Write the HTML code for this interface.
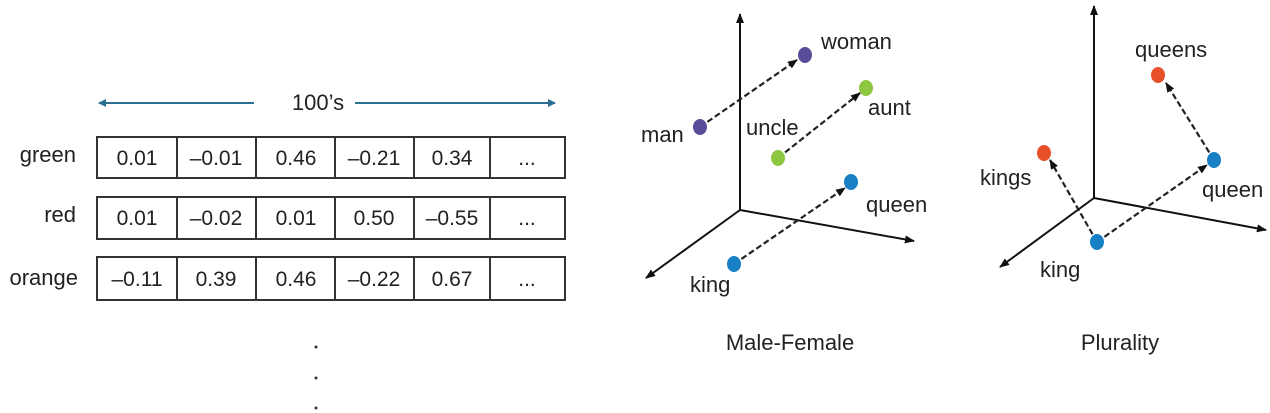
<!DOCTYPE html>
<html><head><meta charset="utf-8"><style>
html,body{margin:0;padding:0;background:#fff;width:1270px;height:413px;overflow:hidden}
svg text{font-family:"Liberation Sans",sans-serif;fill:#222}
</style></head><body>
<svg width="1270" height="413" viewBox="0 0 1270 413" xmlns="http://www.w3.org/2000/svg">
<defs>
<marker id="ab" markerWidth="8" markerHeight="8" refX="7" refY="4" orient="auto" markerUnits="userSpaceOnUse"><path d="M0,0 L8,4 L0,8 z" fill="#2a6f91"/></marker>
<marker id="ak" markerWidth="10" markerHeight="8" refX="9" refY="4" orient="auto" markerUnits="userSpaceOnUse"><path d="M0,0 L10,4 L0,8 z" fill="#111"/></marker>
</defs>
<!-- left -->
<line x1="254" y1="103" x2="99" y2="103" stroke="#2a6f91" stroke-width="2" marker-end="url(#ab)"/>
<line x1="355" y1="103" x2="555" y2="103" stroke="#2a6f91" stroke-width="2" marker-end="url(#ab)"/>
<text x="318" y="110" font-size="22" text-anchor="middle">100’s</text>
<g fill="none" stroke="#333" stroke-width="2">
<rect x="97" y="137" width="468" height="41"/><rect x="97" y="197" width="468" height="42"/><rect x="97" y="257" width="468" height="43"/>
<path d="M177,137V178M256,137V178M335,137V178M414,137V178M490,137V178"/>
<path d="M177,197V239M256,197V239M335,197V239M414,197V239M490,197V239"/>
<path d="M177,257V300M256,257V300M335,257V300M414,257V300M490,257V300"/>
</g>
<g font-size="21" text-anchor="middle">
<text x="137" y="165">0.01</text><text x="216" y="165">–0.01</text><text x="296" y="165">0.46</text><text x="374" y="165">–0.21</text><text x="452" y="165">0.34</text><text x="527" y="165">...</text>
<text x="137" y="225">0.01</text><text x="216" y="225">–0.02</text><text x="296" y="225">0.01</text><text x="374" y="225">0.50</text><text x="452" y="225">–0.55</text><text x="527" y="225">...</text>
<text x="137" y="286">–0.11</text><text x="216" y="286">0.39</text><text x="296" y="286">0.46</text><text x="374" y="286">–0.22</text><text x="452" y="286">0.67</text><text x="527" y="286">...</text>
</g>
<g font-size="22" text-anchor="end">
<text x="76" y="162">green</text><text x="76" y="222">red</text><text x="78" y="285">orange</text>
</g>
<circle cx="316" cy="347" r="1.5" fill="#333"/><circle cx="316" cy="378" r="1.5" fill="#333"/><circle cx="316" cy="408" r="1.5" fill="#333"/>
<!-- middle -->
<g stroke="#111" stroke-width="2" fill="none">
<line x1="740" y1="210" x2="740" y2="14" marker-end="url(#ak)"/>
<line x1="740" y1="210" x2="914" y2="241" marker-end="url(#ak)"/>
<line x1="740" y1="210" x2="646" y2="278" marker-end="url(#ak)"/>
</g>
<g stroke="#222" stroke-width="2.2" stroke-dasharray="6,3" fill="none">
<line x1="700" y1="127" x2="797" y2="60" marker-end="url(#ak)"/>
<line x1="778" y1="158" x2="860" y2="93" marker-end="url(#ak)"/>
<line x1="734" y1="264" x2="845" y2="188" marker-end="url(#ak)"/>
</g>
<ellipse cx="700" cy="127" rx="7" ry="8" fill="#5b4c9a"/>
<ellipse cx="805" cy="55" rx="7" ry="8" fill="#5b4c9a"/>
<ellipse cx="778" cy="158" rx="7" ry="8" fill="#8dc63f"/>
<ellipse cx="866" cy="88" rx="7" ry="8" fill="#8dc63f"/>
<ellipse cx="851" cy="182" rx="7" ry="8" fill="#1780c4"/>
<ellipse cx="734" cy="264" rx="7" ry="8" fill="#1780c4"/>
<g font-size="22">
<text x="821" y="49">woman</text><text x="868" y="115">aunt</text><text x="641" y="142">man</text><text x="746" y="135">uncle</text><text x="866" y="212">queen</text><text x="690" y="292">king</text>
<text x="790" y="350" text-anchor="middle">Male-Female</text>
</g>
<!-- right -->
<g stroke="#111" stroke-width="2" fill="none">
<line x1="1094" y1="198" x2="1094" y2="6" marker-end="url(#ak)"/>
<line x1="1094" y1="198" x2="1266" y2="230" marker-end="url(#ak)"/>
<line x1="1094" y1="198" x2="1000" y2="267" marker-end="url(#ak)"/>
</g>
<g stroke="#222" stroke-width="2.2" stroke-dasharray="6,3" fill="none">
<line x1="1214" y1="160" x2="1166" y2="83" marker-end="url(#ak)"/>
<line x1="1097" y1="242" x2="1050" y2="160" marker-end="url(#ak)"/>
<line x1="1097" y1="242" x2="1207" y2="165" marker-end="url(#ak)"/>
</g>
<ellipse cx="1158" cy="75" rx="7" ry="8" fill="#e8502a"/>
<ellipse cx="1044" cy="153" rx="7" ry="8" fill="#e8502a"/>
<ellipse cx="1214" cy="160" rx="7" ry="8" fill="#1780c4"/>
<ellipse cx="1097" cy="242" rx="7" ry="8" fill="#1780c4"/>
<g font-size="22">
<text x="1135" y="57">queens</text><text x="980" y="185">kings</text><text x="1202" y="197">queen</text><text x="1040" y="277">king</text>
<text x="1120" y="350" text-anchor="middle">Plurality</text>
</g>
</svg>
</body></html>
